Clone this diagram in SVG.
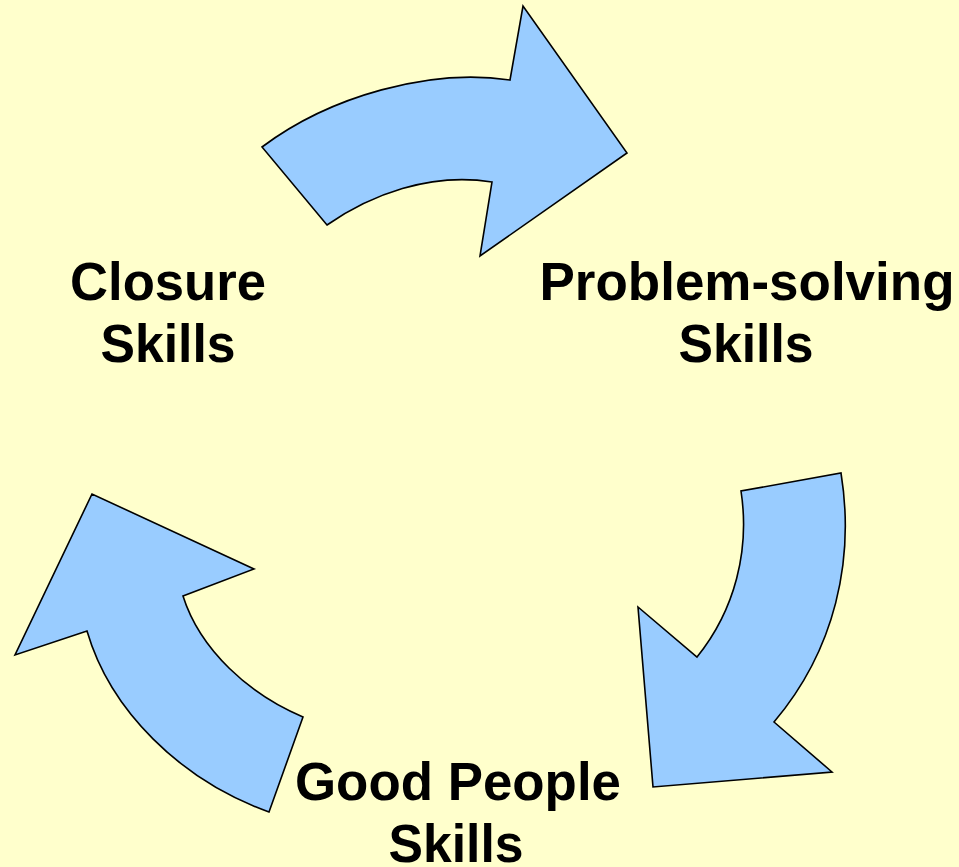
<svg xmlns="http://www.w3.org/2000/svg" width="959" height="867" viewBox="0 0 959 867">
  <style>
    .arrow { fill: #99CCFF; stroke: #000000; stroke-width: 1.6; stroke-linejoin: miter; }
    .label { font-family: "Liberation Sans", Arial, sans-serif; font-weight: bold; font-size: 54px; fill: #000000; text-anchor: middle; }
  </style>
  <rect x="0" y="0" width="959" height="867" fill="#FFFFCC"/>

  <!-- curved cycle arrows -->
  <g id="connectors">
    <path id="arrow-closure-to-problem" class="arrow"
          d="M262,147 C330,96 430,68 510,80 L523,6 L627,153 L480,256 L492,182 C430,172 370,195 327,225 Z"/>
    <path id="arrow-problem-to-people" class="arrow"
          d="M841,473 C855,560 835,650 774,722 L832,772 L653,787 L638,607 L697,657 C735,610 750,550 741,491 Z"/>
    <path id="arrow-people-to-closure" class="arrow"
          d="M269,812 C180,780 110,710 87,631 L15,655 L92,494 L254,569 L183,596 C200,650 250,695 303,717 Z"/>
  </g>

  <g id="closure">
    <text class="label" x="168" y="300" textLength="196" lengthAdjust="spacingAndGlyphs">Closure</text>
    <text class="label" x="168" y="362" textLength="135" lengthAdjust="spacingAndGlyphs">Skills</text>
  </g>
  <g id="problem-solving">
    <text class="label" x="747" y="300" textLength="415" lengthAdjust="spacingAndGlyphs">Problem-solving</text>
    <text class="label" x="746" y="362" textLength="135" lengthAdjust="spacingAndGlyphs">Skills</text>
  </g>
  <g id="good-people">
    <text class="label" x="458" y="800" textLength="326" lengthAdjust="spacingAndGlyphs">Good People</text>
    <text class="label" x="456" y="862" textLength="135" lengthAdjust="spacingAndGlyphs">Skills</text>
  </g>
</svg>
